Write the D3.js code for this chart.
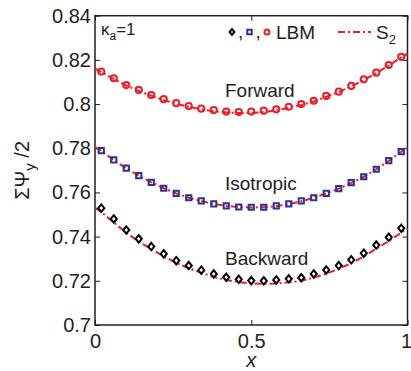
<!DOCTYPE html>
<html><head><meta charset="utf-8">
<script src="https://cdn.jsdelivr.net/npm/d3@7"></script>
<style>html,body{margin:0;padding:0;background:#fff;}svg{display:block;font-family:"Liberation Sans",Arial,Helvetica,sans-serif;}</style>
</head><body>
<script>
// ---- data ----
const xLBM = [0.02,0.06,0.10,0.14,0.18,0.22,0.26,0.30,0.34,0.38,0.42,0.46,0.50,0.54,0.58,0.62,0.66,0.70,0.74,0.78,0.82,0.86,0.90,0.94,0.98];
const forwardLBM = [0.8147,0.8117,0.8086,0.8064,0.8041,0.8022,0.8004,0.7991,0.7979,0.7973,0.7966,0.7964,0.7966,0.7970,0.7976,0.7988,0.8000,0.8015,0.8037,0.8056,0.8082,0.8112,0.8142,0.8177,0.8214];
const isotropicLBM = [0.7789,0.7747,0.7710,0.7676,0.7646,0.7619,0.7596,0.7576,0.7562,0.7548,0.7539,0.7534,0.7533,0.7533,0.7539,0.7548,0.7562,0.7576,0.7596,0.7617,0.7644,0.7671,0.7705,0.7744,0.7785];
const backwardLBM = [0.7529,0.7480,0.7430,0.7390,0.7355,0.7322,0.7291,0.7269,0.7248,0.7231,0.7216,0.7207,0.7201,0.7200,0.7204,0.7209,0.7214,0.7231,0.7249,0.7269,0.7295,0.7325,0.7362,0.7397,0.7438];
const xS2 = [0,0.02,0.06,0.10,0.14,0.18,0.22,0.26,0.30,0.34,0.38,0.42,0.46,0.50,0.54,0.58,0.62,0.66,0.70,0.74,0.78,0.82,0.86,0.90,0.94,0.98,1];
const forwardS2 = [0.8160,0.8145,0.8114,0.8084,0.8060,0.8038,0.8018,0.8001,0.7988,0.7976,0.7968,0.7962,0.7960,0.7960,0.7964,0.7971,0.7983,0.7996,0.8012,0.8033,0.8054,0.8080,0.8109,0.8140,0.8175,0.8211,0.8228];
const isotropicS2 = [0.7805,0.7788,0.7746,0.7709,0.7676,0.7646,0.7619,0.7596,0.7576,0.7561,0.7548,0.7539,0.7534,0.7532,0.7533,0.7538,0.7547,0.7560,0.7576,0.7596,0.7617,0.7643,0.7671,0.7705,0.7743,0.7784,0.7803];
const backwardS2 = [0.7530,0.7512,0.7464,0.7418,0.7378,0.7343,0.7311,0.7281,0.7257,0.7236,0.7218,0.7204,0.7194,0.7188,0.7186,0.7188,0.7193,0.7200,0.7214,0.7232,0.7254,0.7280,0.7310,0.7345,0.7380,0.7418,0.7438];
const yTicks = [0.7,0.72,0.74,0.76,0.78,0.8,0.82,0.84];
const yTickLabels = ["0.7","0.72","0.74","0.76","0.78","0.8","0.82","0.84"];
const xTicks = [0,0.5,1];
const xTickLabels = ["0","0.5","1"];
const curveLabels = ["Forward","Isotropic","Backward"];

// ---- layout ----
const W=411,H=371;
const L=95,R=407.5,T=15.7,B=325;
const ink="#231f20", red="#ee1c25", blue="#2e3192";
const svg=d3.select("body").append("svg").attr("width",W).attr("height",H);
const x=d3.scaleLinear().domain([0,1]).range([L,R]);
const y=d3.scaleLinear().domain([0.7,0.84]).range([B,T]);

function styleAxis(g){g.select(".domain").remove();g.selectAll("line").attr("stroke",ink).attr("stroke-width",1);
  g.selectAll("text").attr("fill",ink).attr("font-size",20).attr("font-family","'Liberation Sans',Arial,sans-serif");}
svg.append("g").attr("transform",`translate(${L},0)`).call(d3.axisLeft(y).tickValues(yTicks).tickFormat((d,i)=>yTickLabels[i]).tickSizeInner(-5).tickSizeOuter(0).tickPadding(4)).call(styleAxis);
svg.append("g").attr("transform",`translate(${R},0)`).call(d3.axisRight(y).tickValues(yTicks).tickFormat("").tickSizeInner(-5).tickSizeOuter(0)).call(styleAxis);
const xg=svg.append("g").attr("transform",`translate(0,${B})`).call(d3.axisBottom(x).tickValues(xTicks).tickFormat((d,i)=>xTickLabels[i]).tickSizeInner(-5).tickSizeOuter(0).tickPadding(9)).call(styleAxis);
xg.selectAll(".tick:last-of-type text").attr("dx",-1.5);
svg.append("g").attr("transform",`translate(0,${T})`).call(d3.axisTop(x).tickValues(xTicks).tickFormat("").tickSizeInner(-5).tickSizeOuter(0)).call(styleAxis);
svg.append("rect").attr("x",L).attr("y",T).attr("width",R-L).attr("height",B-T).attr("fill","none").attr("stroke",ink).attr("stroke-width",1.5);

// ---- S2 lines ----
const line=d3.line().x((d,i)=>x(xS2[i])).y(d=>y(d));
[forwardS2,isotropicS2,backwardS2].forEach(s=>{
  svg.append("path").attr("d",line(s)).attr("fill","none").attr("stroke",red).attr("stroke-width",2).attr("stroke-dasharray","7,3,2,3");
});

// ---- markers ----
const diamond={draw(ctx,size){const h=Math.sqrt(size)*0.62,w=h*0.82;ctx.moveTo(0,-h);ctx.lineTo(w,0);ctx.lineTo(0,h);ctx.lineTo(-w,0);ctx.closePath();}};
const series=[
 {vals:backwardLBM,type:diamond,size:36,color:"#000"},
 {vals:isotropicLBM,type:d3.symbolSquare,size:27,color:blue},
 {vals:forwardLBM,type:d3.symbolCircle,size:30,color:red}
];
series.forEach(s=>{
  svg.append("g").selectAll("path").data(s.vals).join("path")
   .attr("transform",(d,i)=>`translate(${x(xLBM[i])},${y(d)})`)
   .attr("d",d3.symbol().type(s.type).size(s.size))
   .attr("fill","none").attr("stroke",s.color).attr("stroke-width",2);
});

// ---- curve labels ----
const labelPos=[[225,96.7],[225,190],[225,265]];
curveLabels.forEach((t,i)=>svg.append("text").attr("x",labelPos[i][0]).attr("y",labelPos[i][1]).attr("font-size",19).attr("fill",ink).text(t));

// ---- kappa annotation ----
const k=svg.append("text").attr("x",101).attr("y",35).attr("font-size",17).attr("fill",ink);
k.append("tspan").text("κ");
k.append("tspan").attr("font-size",12).attr("dy",5).text("a");
k.append("tspan").attr("dy",-5).text("=1");

// ---- legend ----
const ly=32;
svg.append("path").attr("transform",`translate(232,${ly})`).attr("d",d3.symbol().type(diamond).size(22)).attr("fill","none").attr("stroke","#000").attr("stroke-width",2);
svg.append("path").attr("transform",`translate(249.5,${ly})`).attr("d",d3.symbol().type(d3.symbolSquare).size(20)).attr("fill","none").attr("stroke",blue).attr("stroke-width",2);
svg.append("path").attr("transform",`translate(267,${ly})`).attr("d",d3.symbol().type(d3.symbolCircle).size(20)).attr("fill","none").attr("stroke",red).attr("stroke-width",2);
svg.append("text").attr("x",238).attr("y",38).attr("font-size",19).attr("fill",ink).text(",");
svg.append("text").attr("x",255.5).attr("y",38).attr("font-size",19).attr("fill",ink).text(",");
svg.append("text").attr("x",276).attr("y",39).attr("font-size",19).attr("fill",ink).text("LBM");
svg.append("line").attr("x1",338).attr("x2",371).attr("y1",ly).attr("y2",ly).attr("stroke",red).attr("stroke-width",2).attr("stroke-dasharray","7,3,2,3");
const s2=svg.append("text").attr("x",376).attr("y",39).attr("font-size",19).attr("fill",ink);
s2.append("tspan").text("S");
s2.append("tspan").attr("font-size",13).attr("dy",5).text("2");

// ---- axis titles ----
svg.append("text").attr("x",L+(R-L)/2).attr("y",367).attr("text-anchor","middle").attr("font-size",20).attr("font-style","italic").attr("fill",ink).text("x");
const yl=svg.append("text").attr("transform",`translate(29,${(T+B)/2}) rotate(-90)`).attr("text-anchor","middle").attr("font-size",20).attr("fill",ink);
yl.append("tspan").text("ΣΨ");
yl.append("tspan").attr("font-size",15).attr("dy",6).text("y");
yl.append("tspan").attr("dy",-6).text(" /2");
</script>
</body></html>
